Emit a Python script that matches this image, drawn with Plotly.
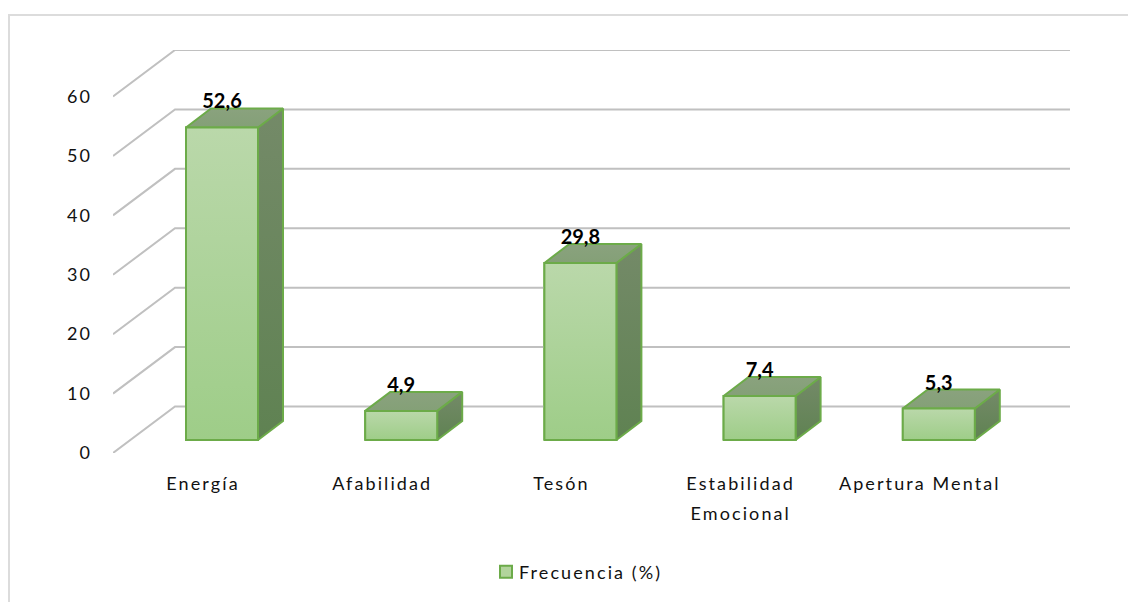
import plotly.graph_objects as go

categories = ["Energía", "Afabilidad", "Tesón", "Estabilidad Emocional", "Apertura Mental"]
tick_labels = ["Energía", "Afabilidad", "Tesón", "Estabilidad", "Apertura Mental"]
tick_second_line = "Emocional"
values = [52.6, 4.9, 29.8, 7.4, 5.3]
y_ticks = [0, 10, 20, 30, 40, 50, 60]
series_name = "Frecuencia (%)"

# plot frame in px
W, H = 1128, 602
L, R, T, B = 113, 1070, 50, 453
PX_X = 179.2           # px per category
PX_Y = (453 - 96.5) / 60   # px per value unit

# 3-D oblique projection offsets, in data units
WALL_DX = 62 / PX_X
WALL_DY = 46.5 / PX_Y
BAR_LEFT = -17 / PX_X
BAR_W = 72 / PX_X
BAR_DX = 25 / PX_X
BAR_DY = 19 / PX_Y
FLOOR = 13 / PX_Y
LABEL_DX = 36 / PX_X
LABEL_DY = 24 / PX_Y

x_min = (L - 203) / PX_X
x_max = x_min + (R - L) / PX_X
y_max = (B - T) / PX_Y

EDGE = "#6cab49"
GRID = "#c0c0c0"
FONT = "Lato, 'Open Sans', sans-serif"
TEXT = "#111111"

fig = go.Figure()

# real bars (also supply the legend entry)
fig.add_trace(go.Bar(
    x=[i + BAR_LEFT + BAR_W / 2 for i in range(len(values))],
    y=values, base=FLOOR, width=BAR_W, name=series_name,
    marker=dict(color="#b2d49c", line=dict(color=EDGE, width=2)),
    hoverinfo="skip", showlegend=True,
))

# grid: floor diagonal + back wall line per tick
for t in y_ticks:
    fig.add_trace(go.Scatter(
        x=[x_min, x_min + WALL_DX, x_max], y=[t, t + WALL_DY, t + WALL_DY],
        mode="lines", line=dict(color=GRID, width=2), showlegend=False,
        hoverinfo="skip", cliponaxis=False,
    ))

# oblique bar faces computed from the values
for i, v in enumerate(values):
    x0 = i + BAR_LEFT
    x1 = x0 + BAR_W
    y0 = FLOOR
    y1 = FLOOR + v
    faces = [
        ([x1, x1 + BAR_DX, x1 + BAR_DX, x1, x1], [y0, y0 + BAR_DY, y1 + BAR_DY, y1, y0],
         [[0, "#5f8252"], [1, "#748a68"]]),
        ([x0, x0 + BAR_DX, x1 + BAR_DX, x1, x0], [y1, y1 + BAR_DY, y1 + BAR_DY, y1, y1],
         [[0, "#84a077"], [1, "#8aa27e"]]),
        ([x0, x1, x1, x0, x0], [y0, y0, y1, y1, y0],
         [[0, "#9ecd88"], [1, "#bad8aa"]]),
    ]
    for fx, fy, scale in faces:
        fig.add_trace(go.Scatter(
            x=fx, y=fy, mode="lines", fill="toself",
            line=dict(color=EDGE, width=2),
            fillgradient=dict(type="vertical", colorscale=scale),
            showlegend=False, hoverinfo="skip", cliponaxis=False,
        ))

# data labels
fig.add_trace(go.Scatter(
    x=[i + BAR_LEFT + LABEL_DX for i in range(len(values))],
    y=[FLOOR + v + LABEL_DY for v in values],
    text=[f"{v:.1f}".replace(".", ",") for v in values],
    mode="text", textposition="middle center",
    textfont=dict(family=FONT, size=20, color="black", weight="bold"),
    showlegend=False, hoverinfo="skip", cliponaxis=False,
))

def px(x):
    return (x - L) / (R - L)

def py(y):
    return (B - y) / (B - T)

fig.update_layout(
    width=W, height=H, autosize=False,
    margin=dict(l=L, r=W - R, t=T, b=H - B, autoexpand=False),
    paper_bgcolor="white", plot_bgcolor="white",
    font=dict(family=FONT, size=18, color=TEXT),
    xaxis=dict(range=[x_min, x_max], tickmode="array", tickvals=list(range(len(values))),
               ticktext=tick_labels, showgrid=False, zeroline=False, showline=False,
               ticks="", ticklabelstandoff=18, tickangle=0),
    yaxis=dict(range=[0, y_max], tickmode="array", tickvals=y_ticks,
               ticktext=[str(t) for t in y_ticks], showgrid=False, zeroline=False,
               showline=False, ticks="", ticklabelstandoff=20),
    legend=dict(orientation="h", x=px(479), y=py(572), xanchor="left", yanchor="middle",
                entrywidth=170, entrywidthmode="pixels",
                font=dict(family=FONT, size=18, color=TEXT), bgcolor="rgba(0,0,0,0)"),
    annotations=[dict(text=tick_second_line, x=3, y=py(513), xref="x", yref="paper",
                      xanchor="center", yanchor="middle", showarrow=False,
                      font=dict(family=FONT, size=18, color=TEXT))],
    shapes=[dict(type="path", xref="paper", yref="paper",
                 path=f"M {px(9)} {py(602)} L {px(9)} {py(15)} L {px(1128)} {py(15)}",
                 line=dict(color="#dcdcdc", width=2))],
)

post = """
document.body.style.margin='0';
var s=document.createElement('style');
s.textContent='.xtick text,.ytick text,.legendtext,.annotation-text{letter-spacing:2.1px}'
 +' g.legendpoints{transform:translate(7px,0)}';
document.head.appendChild(s);
"""
fig.write_html("out.html", post_script=post, config={"displayModeBar": False})
